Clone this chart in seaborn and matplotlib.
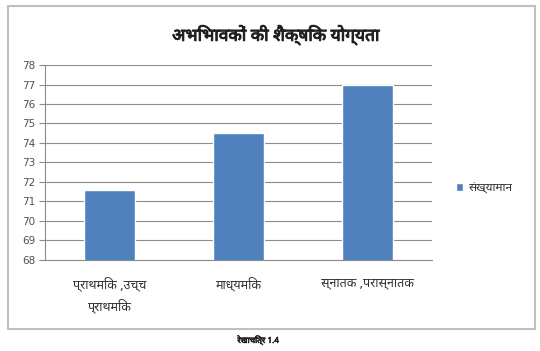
import matplotlib
matplotlib.use("Agg")
import matplotlib.pyplot as plt
import matplotlib.patheffects as pe
import seaborn as sns
import pandas as pd
from matplotlib.patches import Rectangle

categories = ["प्राथमिक ,उच्च\nप्राथमिक", "माध्यमिक", "स्नातक ,परास्नातक"]
values = [71.6, 74.5, 77.0]
series_name = "संख्यामान"
title = "अभिभावकों की शैक्षिक योग्यता"
caption = "रेखाचित्र 1.4"
yticks = list(range(68, 79))

sns.set_theme(style="white")
fam = ["Noto Sans Devanagari", "Hind", "Mukta", "Poppins", "Arya", "DejaVu Sans"]
plt.rcParams["font.family"] = fam

df = pd.DataFrame({"cat": categories, "val": values})

fig = plt.figure(figsize=(5.4, 3.51), dpi=100)
ax = fig.add_axes([0.0833, 0.2593, 0.7167, 0.5555])
sns.barplot(data=df, x="cat", y="val", color="#4F81BD", width=0.4,
            saturation=1, label=series_name, ax=ax, zorder=3)

ax.set_ylim(68, 78)
ax.set_xlim(-0.5, 2.5)
ax.set_yticks(yticks)
ax.set_yticklabels([str(t) for t in yticks], fontsize=7.5, color="#505050",
                   family="DejaVu Sans")
ax.set_xlabel("")
ax.set_ylabel("")
ax.set_xticks(range(3))
ax.set_xticklabels(categories, fontsize=9, color="#303030", linespacing=1.6)
ax.set_xticks([-0.5, 0.5, 1.5, 2.5], minor=True)
ax.tick_params(axis="x", which="major", length=0, pad=12)
ax.tick_params(axis="x", which="minor", length=5, color="#8c8c8c", width=0.8, direction="out")
ax.tick_params(axis="y", length=4, color="#8c8c8c", width=0.8, direction="out", left=True, pad=3)
ax.grid(axis="y", color="#8c8c8c", linewidth=0.8, zorder=0)
for s in ["top", "right"]:
    ax.spines[s].set_visible(False)
for s in ["left", "bottom"]:
    ax.spines[s].set_color("#8c8c8c")
    ax.spines[s].set_linewidth(0.8)

leg = ax.legend(loc="center left", bbox_to_anchor=(1.035, 0.37), frameon=False,
                fontsize=8.5, handlelength=0.6, handleheight=0.6, handletextpad=0.5)
for t in leg.get_texts():
    t.set_color("#303030")

bold = [pe.withStroke(linewidth=0.7, foreground="#202020")]
fig.text(0.511, 0.90, title, ha="center", va="center", fontsize=12.5, fontweight="bold",
         color="#202020", path_effects=bold)
fig.text(0.478, 0.03, caption, ha="center", va="center", fontsize=6, fontweight="bold",
         color="#202020", path_effects=[pe.withStroke(linewidth=0.4, foreground="#202020")])

fig.patches.append(Rectangle((0.0148, 0.0627), 0.976, 0.920, transform=fig.transFigure,
                             fill=False, edgecolor="#c0c0c0", linewidth=1.5))

fig.savefig("out.png", dpi=100)
